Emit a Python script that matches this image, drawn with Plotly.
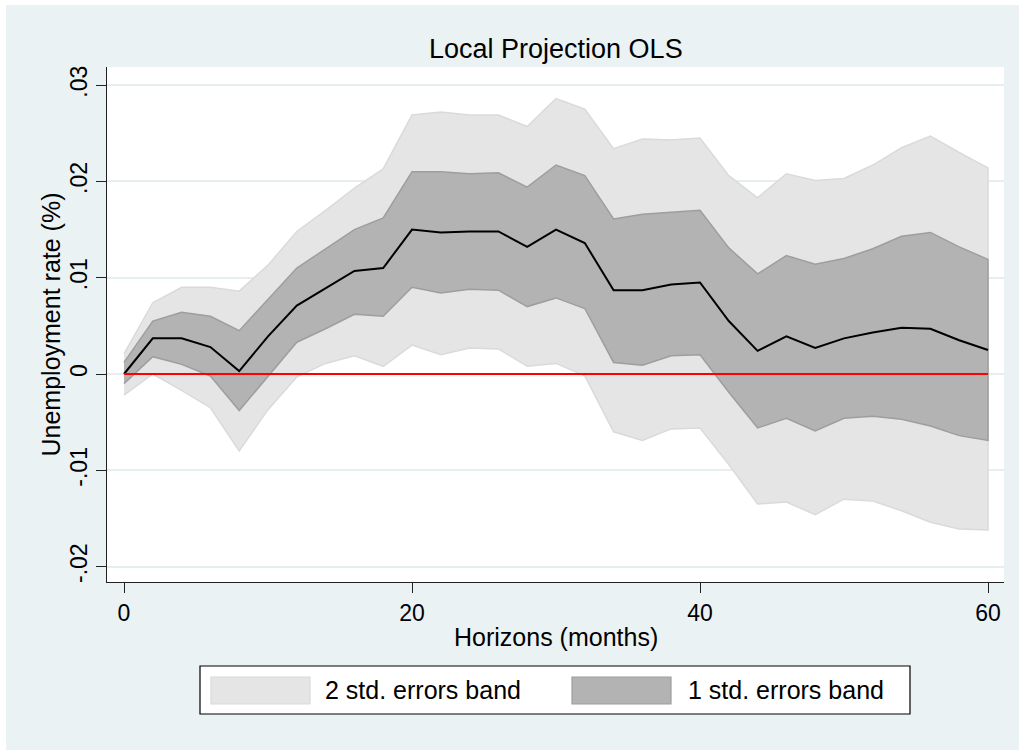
import plotly.graph_objects as go

# ---- data ----
horizons = list(range(0, 61, 2))
point = [0.0000, 0.0037, 0.0037, 0.0028, 0.0003, 0.0039, 0.0071, 0.0089, 0.0107, 0.0110,
         0.0150, 0.0147, 0.0148, 0.0148, 0.0132, 0.0150, 0.0136, 0.0087, 0.0087, 0.0093,
         0.0095, 0.0055, 0.0024, 0.0039, 0.0027, 0.0037, 0.0043, 0.0048, 0.0047, 0.0035, 0.0025]
upper1 = [0.0012, 0.0055, 0.0064, 0.0060, 0.0045, 0.0077, 0.0110, 0.0130, 0.0150, 0.0162,
          0.0210, 0.0210, 0.0208, 0.0209, 0.0194, 0.0217, 0.0206, 0.0161, 0.0166, 0.0168,
          0.0170, 0.0131, 0.0104, 0.0123, 0.0114, 0.0120, 0.0130, 0.0143, 0.0147, 0.0132, 0.0119]
lower1 = [-0.0010, 0.0018, 0.0010, -0.0002, -0.0038, -0.0002, 0.0033, 0.0047, 0.0062, 0.0060,
          0.0090, 0.0084, 0.0088, 0.0087, 0.0070, 0.0079, 0.0068, 0.0012, 0.0009, 0.0019,
          0.0020, -0.0019, -0.0056, -0.0046, -0.0059, -0.0046, -0.0044, -0.0047, -0.0054, -0.0064, -0.0069]
upper2 = [0.0021, 0.0074, 0.0090, 0.0090, 0.0086, 0.0113, 0.0148, 0.0170, 0.0193, 0.0213,
          0.0269, 0.0272, 0.0269, 0.0269, 0.0257, 0.0286, 0.0275, 0.0234, 0.0244, 0.0243,
          0.0245, 0.0206, 0.0183, 0.0208, 0.0201, 0.0203, 0.0217, 0.0235, 0.0247, 0.0230, 0.0214]
lower2 = [-0.0022, 0.0000, -0.0017, -0.0035, -0.0080, -0.0037, -0.0003, 0.0011, 0.0019, 0.0008,
          0.0030, 0.0020, 0.0027, 0.0026, 0.0008, 0.0011, -0.0002, -0.0060, -0.0069, -0.0057,
          -0.0056, -0.0094, -0.0135, -0.0133, -0.0146, -0.0130, -0.0132, -0.0142, -0.0154, -0.0161, -0.0162]
zero_line = [0.0] * len(horizons)

x_tickvals = [0, 20, 40, 60]
y_tickvals = [-0.02, -0.01, 0.0, 0.01, 0.02, 0.03]
y_ticktext = ["-.02", "-.01", "0", ".01", ".02", ".03"]

title_text = "Local Projection OLS"
x_title = "Horizons (months)"
y_title = "Unemployment rate (%)"
legend_labels = ["2 std. errors band", "1 std. errors band"]

# ---- styles ----
FONT = "Liberation Sans, Arial, Helvetica, sans-serif"
BG = "#EAF2F3"
LIGHT_FILL, LIGHT_LINE = "#E5E5E5", "#DADADA"
DARK_FILL, DARK_LINE = "#B3B3B3", "#9E9E9E"

W, H = 1019, 750
L, R, T, B = 107, 15, 67, 168
PW, PH = W - L - R, H - T - B


def px(x):
    return (x - L) / PW


def py(y):
    return (H - B - y) / PH


fig = go.Figure()

# 2 s.e. band
fig.add_trace(go.Scatter(
    x=horizons + horizons[::-1], y=upper2 + lower2[::-1],
    fill="toself", fillcolor=LIGHT_FILL, mode="lines",
    line=dict(color=LIGHT_LINE, width=1.5), showlegend=False, hoverinfo="skip"))
# 1 s.e. band
fig.add_trace(go.Scatter(
    x=horizons + horizons[::-1], y=upper1 + lower1[::-1],
    fill="toself", fillcolor=DARK_FILL, mode="lines",
    line=dict(color=DARK_LINE, width=1.5), showlegend=False, hoverinfo="skip"))
# point estimate
fig.add_trace(go.Scatter(x=horizons, y=point, mode="lines",
                         line=dict(color="black", width=2), showlegend=False))
# zero line
fig.add_trace(go.Scatter(x=horizons, y=zero_line, mode="lines",
                         line=dict(color="#FF0000", width=2), showlegend=False))

shapes = []
# white strips at the top and left edge of the page
shapes.append(dict(type="rect", xref="paper", yref="paper", x0=px(0), x1=px(W), y0=py(0), y1=py(5),
                   fillcolor="white", line=dict(width=0), layer="above"))
shapes.append(dict(type="rect", xref="paper", yref="paper", x0=px(0), x1=px(6), y0=py(0), y1=py(H),
                   fillcolor="white", line=dict(width=0), layer="above"))
# legend box
shapes.append(dict(type="rect", xref="paper", yref="paper", x0=px(200), x1=px(910), y0=py(714), y1=py(666),
                   fillcolor="white", line=dict(color="black", width=1.2), layer="above"))
shapes.append(dict(type="rect", xref="paper", yref="paper", x0=px(211), x1=px(310), y0=py(704), y1=py(677),
                   fillcolor=LIGHT_FILL, line=dict(color=LIGHT_LINE, width=1.2), layer="above"))
shapes.append(dict(type="rect", xref="paper", yref="paper", x0=px(572), x1=px(671), y0=py(704), y1=py(677),
                   fillcolor=DARK_FILL, line=dict(color=DARK_LINE, width=1.2), layer="above"))

annotations = [
    dict(text=title_text, xref="paper", yref="paper", x=0.5, y=py(49), xanchor="center", yanchor="middle",
         showarrow=False, font=dict(family=FONT, size=27, color="black")),
    dict(text=x_title, xref="paper", yref="paper", x=0.5, y=py(637), xanchor="center", yanchor="middle",
         showarrow=False, font=dict(family=FONT, size=25, color="black")),
    dict(text=y_title, xref="paper", yref="paper", x=px(50), y=0.5, xanchor="center", yanchor="middle",
         textangle=-90, showarrow=False, font=dict(family=FONT, size=25, color="black")),
    dict(text=legend_labels[0], xref="paper", yref="paper", x=px(323), y=py(690), xanchor="left", yanchor="middle",
         showarrow=False, font=dict(family=FONT, size=25, color="black")),
    dict(text=legend_labels[1], xref="paper", yref="paper", x=px(686), y=py(690), xanchor="left", yanchor="middle",
         showarrow=False, font=dict(family=FONT, size=25, color="black")),
]

x0_range = (L - 124) / 14.4
x1_range = (W - R - 124) / 14.4
y1_range = (374 - T) / 9630
y0_range = (374 - (H - B)) / 9630

fig.update_layout(
    width=W, height=H,
    margin=dict(l=L, r=R, t=T, b=B, pad=0),
    paper_bgcolor=BG, plot_bgcolor="white",
    font=dict(family=FONT, color="black"),
    shapes=shapes, annotations=annotations,
    showlegend=False,
    xaxis=dict(range=[x0_range, x1_range], tickvals=x_tickvals, ticks="outside", ticklen=10,
               tickwidth=1.2, tickcolor="#222", showline=True, linecolor="#222", linewidth=1.2,
               showgrid=False, zeroline=False, tickfont=dict(family=FONT, size=23, color="black")),
    yaxis=dict(range=[y0_range, y1_range], tickvals=y_tickvals, ticktext=y_ticktext,
               ticks="outside", ticklen=10, tickwidth=1.2, tickcolor="#222", tickangle=-90,
               showline=True, linecolor="#222", linewidth=1.2,
               showgrid=True, gridcolor="#E6EEF0", gridwidth=1.5, zeroline=False,
               tickfont=dict(family=FONT, size=23, color="black")),
)

fig.write_html("out.html")
